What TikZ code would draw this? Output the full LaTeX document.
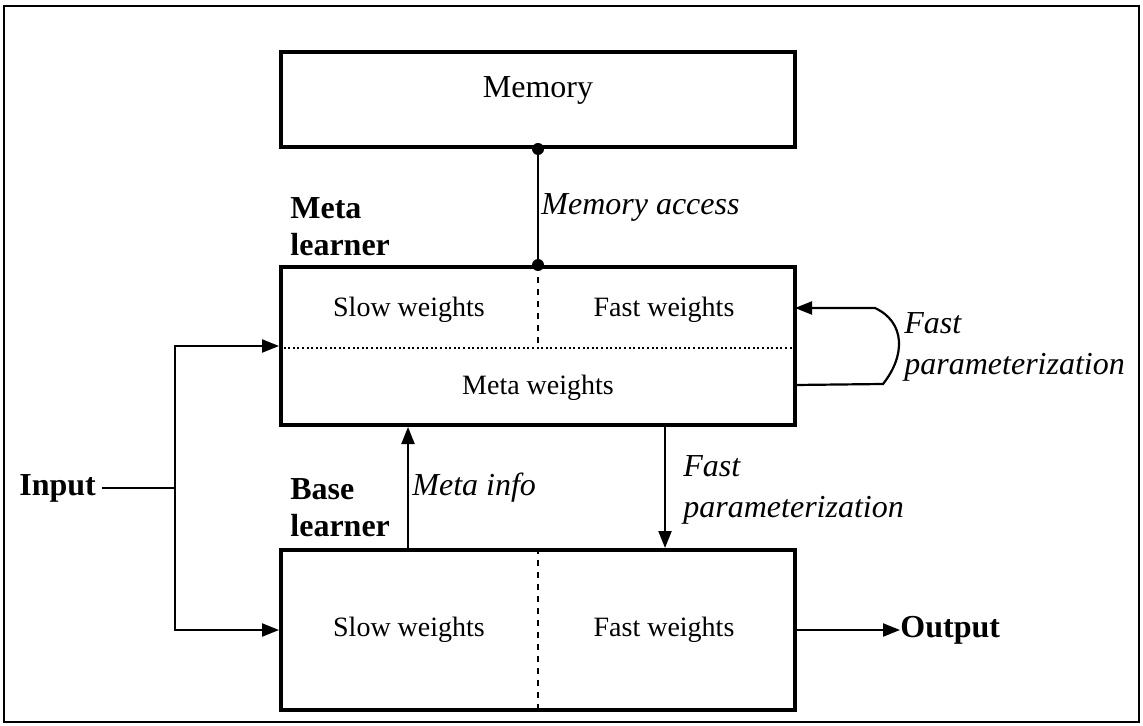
\documentclass[tikz,border=0pt]{standalone}
\usepackage{fontspec}
\setmainfont{Liberation Serif}
\usetikzlibrary{arrows.meta}
\begin{document}
\begin{tikzpicture}[x=0.5pt,y=-0.5pt,
  box/.style={draw,line width=2pt,minimum width=257pt,inner sep=0pt},
  conn/.style={line width=1.1pt},
  arr/.style={conn,-{Triangle[length=8.5pt,width=6.5pt]}},
  dashdiv/.style={line width=1.4pt,dash pattern=on 3pt off 3pt},
  dotdiv/.style={line width=1.3pt,dash pattern=on 1pt off 1.3pt},
  wtxt/.style={font=\fontsize{14}{17}\selectfont,inner sep=0pt},
  btxt/.style={font=\fontsize{16}{18.5}\selectfont\bfseries,inner sep=0pt,align=left},
  itxt/.style={font=\fontsize{16}{20.5}\selectfont\itshape,inner sep=0pt,align=left}]
\useasboundingbox (0,0) rectangle (1143,726);
\draw[line width=1pt] (4,6) rectangle (1139,722);
% boxes
\node[box,minimum height=47.5pt] (mem) at (538,99.5) {};
\node[font=\fontsize{16}{18}\selectfont,inner sep=0pt] (memt) at (538,90) {Memory};
\node[box,minimum height=79pt] (meta) at (538,346) {};
\node[box,minimum height=80pt] (base) at (538,630) {};
% meta box internals
\coordinate (mdiv) at (538,348);
\draw[dashdiv] (meta.north) -- (mdiv);
\draw[dotdiv] (meta.west |- mdiv) -- (meta.east |- mdiv);
\node[wtxt] (mslow) at (409,310) {Slow weights};
\node[wtxt] (mfast) at (664,310) {Fast weights};
\node[wtxt] (mmeta) at (538,388) {Meta weights};
% base box internals
\draw[dashdiv] (base.north) -- (base.south);
\node[wtxt] (bslow) at (409,630) {Slow weights};
\node[wtxt] (bfast) at (664,630) {Fast weights};
% memory access
\draw[conn] (mem.south) -- (meta.north);
\fill (mem.south) circle (3pt);
\fill (meta.north) circle (3pt);
\node[itxt,anchor=west] (mat) at (541,207) {Memory access};
% labels
\node[btxt,anchor=west] (mlt) at (290,227) {Meta\\learner};
\node[btxt,anchor=west] (blt) at (290,508) {Base\\learner};
% input
\node[btxt,anchor=west] (in) at (19,488) {Input};
\coordinate (j) at (175,488);
\draw[conn] (in.east) ++(6,0) -- (j);
\draw[arr] (j) |- (meta.west |- 0,346);
\draw[arr] (j) |- (base.west);
% meta info
\coordinate (mi1) at (408,550);
\draw[arr] (mi1) -- (meta.south -| mi1);
\node[itxt,anchor=west] (mit) at (412,488) {Meta info};
% fast parameterization down
\coordinate (fp1) at (665,425);
\draw[arr] (fp1) -- (base.north -| fp1);
\node[itxt,anchor=north west] (fpt) at (683,455) {Fast\\parameterization};
% self loop
\coordinate (l1) at (795,385);
\coordinate (l2) at (883,384);
\coordinate (l3) at (875,308);
\coordinate (l4) at (795,308);
\draw[arr] (l1) -- (l2) .. controls (906,355) and (905,322) .. (l3) -- (l4);
\node[itxt,anchor=north west] (lpt) at (904,312) {Fast\\parameterization};
% output
\node[btxt,anchor=west] (out) at (900,630) {Output};
\draw[arr] (base.east) -- (out.west);
\end{tikzpicture}
\end{document}
